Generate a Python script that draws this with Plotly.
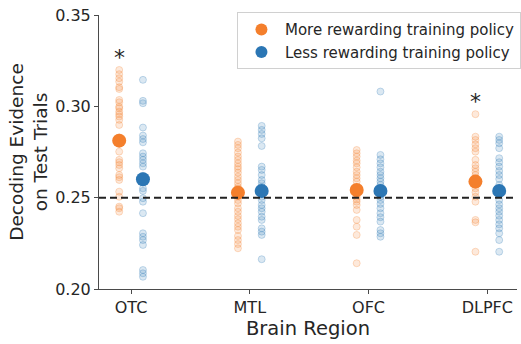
import plotly.graph_objects as go

# Brain regions on the x axis
regions = ["OTC", "MTL", "OFC", "DLPFC"]

# Per-participant decoding evidence, more rewarding training policy
more_otc = [0.3199, 0.3176, 0.3154, 0.3135, 0.3105, 0.3095, 0.3035, 0.3022, 0.2998, 0.2990,
            0.2971, 0.2957, 0.2944, 0.2926, 0.2898, 0.2830, 0.2800, 0.2752, 0.2707, 0.2694,
            0.2679, 0.2661, 0.2624, 0.2612, 0.2597, 0.2533, 0.2505, 0.2451, 0.2442, 0.2423]
more_mtl = [0.2807, 0.2789, 0.2771, 0.2747, 0.2725, 0.2707, 0.2688, 0.2670, 0.2656, 0.2637,
            0.2615, 0.2597, 0.2579, 0.2560, 0.2550, 0.2530, 0.2510, 0.2487, 0.2469, 0.2442,
            0.2423, 0.2400, 0.2382, 0.2360, 0.2341, 0.2323, 0.2290, 0.2268, 0.2246, 0.2223]
more_ofc = [0.2761, 0.2743, 0.2725, 0.2703, 0.2688, 0.2666, 0.2642, 0.2624, 0.2606, 0.2588,
            0.2550, 0.2535, 0.2520, 0.2505, 0.2491, 0.2478, 0.2460, 0.2433, 0.2378, 0.2341,
            0.2296, 0.2141]
more_dlpfc = [0.2957, 0.2834, 0.2816, 0.2792, 0.2771, 0.2752, 0.2707, 0.2679, 0.2661, 0.2642,
              0.2624, 0.2600, 0.2570, 0.2551, 0.2530, 0.2505, 0.2478, 0.2378, 0.2365, 0.2204]

# Per-participant decoding evidence, less rewarding training policy
less_otc = [0.3145, 0.3030, 0.3017, 0.2884, 0.2840, 0.2821, 0.2803, 0.2743, 0.2725, 0.2707,
            0.2688, 0.2670, 0.2620, 0.2600, 0.2590, 0.2551, 0.2537, 0.2497, 0.2478, 0.2415,
            0.2305, 0.2286, 0.2268, 0.2241, 0.2104, 0.2086, 0.2067]
less_mtl = [0.2893, 0.2871, 0.2849, 0.2825, 0.2783, 0.2670, 0.2652, 0.2624, 0.2597, 0.2579,
            0.2560, 0.2540, 0.2520, 0.2505, 0.2487, 0.2460, 0.2442, 0.2423, 0.2396, 0.2378,
            0.2332, 0.2314, 0.2296, 0.2163]
less_ofc = [0.3081, 0.2734, 0.2710, 0.2688, 0.2666, 0.2642, 0.2624, 0.2606, 0.2588, 0.2570,
            0.2550, 0.2530, 0.2505, 0.2487, 0.2466, 0.2442, 0.2415, 0.2393, 0.2369, 0.2323,
            0.2305, 0.2286]
less_dlpfc = [0.2834, 0.2816, 0.2798, 0.2771, 0.2716, 0.2694, 0.2670, 0.2646, 0.2624, 0.2602,
              0.2570, 0.2550, 0.2530, 0.2487, 0.2463, 0.2442, 0.2423, 0.2401, 0.2378, 0.2354,
              0.2332, 0.2305, 0.2268, 0.2204]

# Group means
more_means = [0.2812, 0.2527, 0.2542, 0.2588]
less_means = [0.2601, 0.2537, 0.2537, 0.2537]

chance_level = 0.25
significant = ["OTC", "DLPFC"]

more_label = "More rewarding training policy"
less_label = "Less rewarding training policy"
orange = "#f47f2c"
blue = "#2b76b4"
offset = 0.1

more_points = [more_otc, more_mtl, more_ofc, more_dlpfc]
less_points = [less_otc, less_mtl, less_ofc, less_dlpfc]

fig = go.Figure()


def add_points(groups, color_rgb, shift):
    xs, ys = [], []
    for i, vals in enumerate(groups):
        xs += [i + shift] * len(vals)
        ys += vals
    fig.add_trace(go.Scatter(
        x=xs, y=ys, mode="markers", showlegend=False, hoverinfo="skip",
        marker=dict(size=7, color=f"rgba({color_rgb},0.17)",
                    line=dict(color=f"rgba({color_rgb},0.26)", width=1)),
    ))


add_points(more_points, "244,127,44", -offset)
add_points(less_points, "43,118,180", offset)

fig.add_trace(go.Scatter(
    x=[i - offset for i in range(len(regions))], y=more_means, mode="markers",
    name=more_label, marker=dict(size=14, color=orange),
))
fig.add_trace(go.Scatter(
    x=[i + offset for i in range(len(regions))], y=less_means, mode="markers",
    name=less_label, marker=dict(size=14, color=blue),
))

# Chance level
fig.add_shape(type="line", xref="paper", yref="y", x0=0, x1=1,
              y0=chance_level, y1=chance_level,
              line=dict(color="#222222", width=2, dash="7px,4px"))

# Significance stars above the more rewarding group
for r in significant:
    i = regions.index(r)
    top = max(more_points[i])
    fig.add_annotation(x=i - offset, y=top - 0.0009, text="*", showarrow=False,
                       yanchor="bottom", font=dict(size=22, color="#262626"))

font_family = "DejaVu Sans"
fig.update_layout(
    width=521, height=344,
    margin=dict(l=99, r=0, t=15, b=55),
    plot_bgcolor="white", paper_bgcolor="white",
    font=dict(family=font_family, color="#262626"),
    legend=dict(
        x=0.33, y=1.01, xanchor="left", yanchor="top",
        bordercolor="#d0d0d0", borderwidth=1, bgcolor="rgba(255,255,255,0.8)",
        font=dict(size=15, color="#262626"),
        itemsizing="constant", itemwidth=37, tracegroupgap=0,
    ),
    xaxis=dict(
        range=[-0.27, 3.25], tickvals=list(range(len(regions))), ticktext=regions,
        showgrid=False, zeroline=False, showline=True, linecolor="#4a4a4a", linewidth=1,
        ticks="outside", ticklen=4, tickcolor="#4a4a4a",
        tickfont=dict(size=16, color="#262626"),
        title=dict(text="Brain Region", font=dict(size=19.5, color="#262626"), standoff=3),
    ),
    yaxis=dict(
        range=[0.20, 0.35], tickvals=[0.20, 0.25, 0.30, 0.35], tickformat=".2f",
        showgrid=False, zeroline=False, showline=True, linecolor="#4a4a4a", linewidth=1,
        ticks="outside", ticklen=4, tickcolor="#4a4a4a",
        tickfont=dict(size=16, color="#262626"),
        title=dict(text="Decoding Evidence<br>on Test Trials",
                   font=dict(size=18.5, color="#262626"), standoff=2),
    ),
)

fig.write_html("out.html")
